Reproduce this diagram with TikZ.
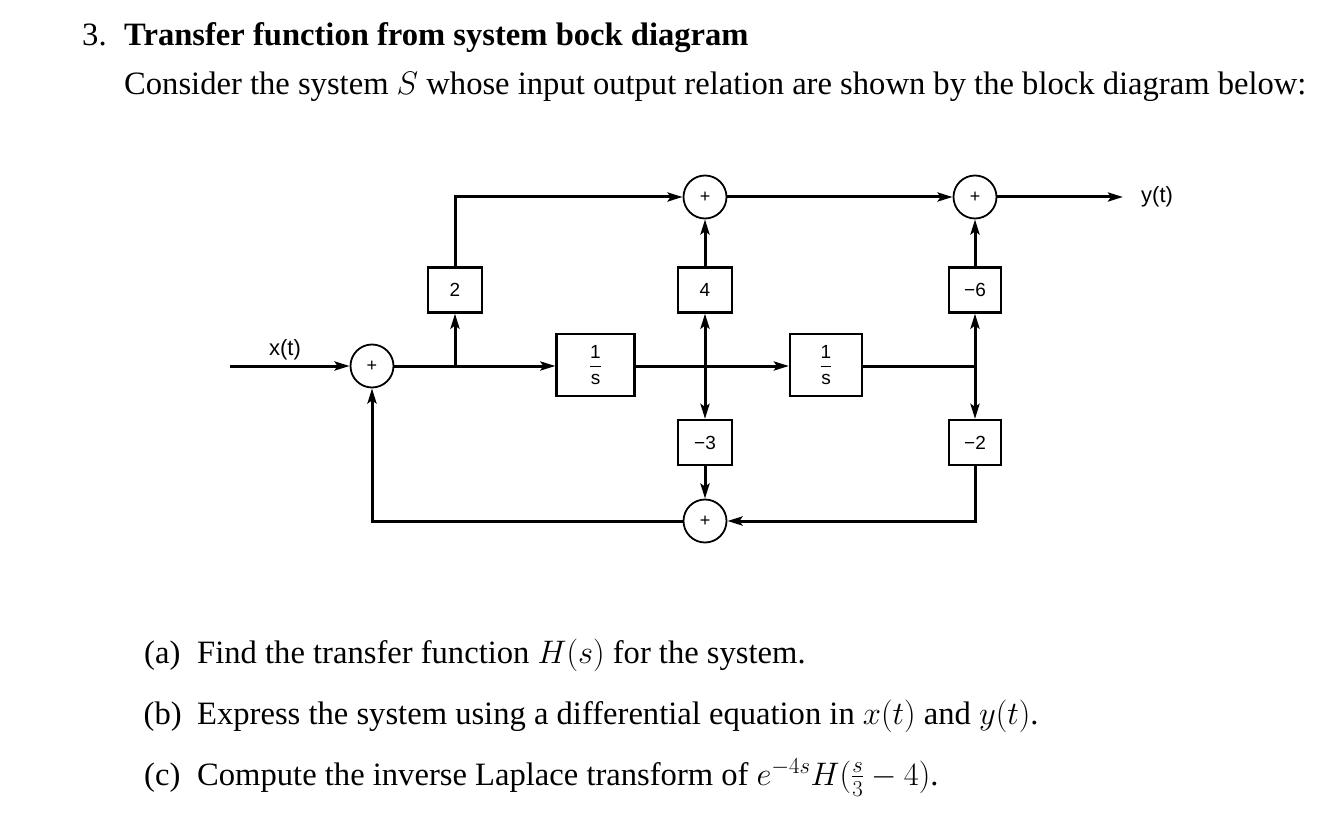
\RequirePackage{fix-cm}
\documentclass[tikz,border=0pt]{standalone}
\usepackage{amsmath}
\usepackage[no-math]{fontspec}
\setmainfont{Liberation Serif}
\setsansfont{Liberation Sans}
\usetikzlibrary{arrows.meta,positioning}

\begin{document}
\begin{tikzpicture}[
    x=1pt, y=-1pt, >={Stealth[length=15pt,width=9pt,inset=3pt]},
    sum_node/.style={circle, draw, line width=1.8pt, minimum size=43pt, inner sep=0pt, font=\fontsize{18}{18}\selectfont\sffamily},
    gain_node/.style={rectangle, draw, line width=2.2pt, minimum width=54pt, minimum height=45pt, inner sep=0pt, font=\fontsize{19}{19}\selectfont\sffamily},
    int_node/.style={gain_node, minimum width=78pt, minimum height=62pt},
    sig_lbl/.style={inner sep=0pt, font=\fontsize{22}{22}\selectfont\sffamily},
    sig_line/.style={line width=3pt},
    txt_lbl/.style={anchor=base west, inner sep=0pt, font=\fontsize{32.6}{38}\selectfont}
]
    \useasboundingbox (0,0) rectangle (1330,834);

    % Question text
    \node[txt_lbl] (num_lbl) at (82,46) {3.};
    \node[txt_lbl] (title_lbl) at (124,46) {\bfseries Transfer function from system bock diagram};
    \node[txt_lbl] (intro_lbl) at (124,95) {Consider the system $S$ whose input output relation are shown by the block diagram below:};

    % Summing junctions
    \node[sum_node] (in_sum) at (372,366) {+};
    \node[sum_node] (top_sum_a) at (705,197) {+};
    \node[sum_node] (top_sum_b) at (975,197) {+};
    \node[sum_node] (bot_sum) at (705,521) {+};

    % Gain and integrator blocks
    \node[gain_node] (gain_two) at (455,290) {2};
    \node[gain_node] (gain_four) at (705,290) {4};
    \node[gain_node] (gain_mthree) at (705,442.5) {−3};
    \node[gain_node, minimum width=52pt] (gain_msix) at (975,290) {−6};
    \node[gain_node, minimum width=52pt] (gain_mtwo) at (975,442.5) {−2};
    \node[int_node] (int_a) at (595.5,365) {$\dfrac{\hbox{1}}{\hbox{s}}$};
    \node[int_node, minimum width=72pt] (int_b) at (826,365) {$\dfrac{\hbox{1}}{\hbox{s}}$};

    % Input, output and branch points
    \coordinate (x_in) at (230,366);
    \coordinate (y_out) at (1123,197);
    \coordinate (br_a) at (gain_two |- in_sum);
    \coordinate (br_b) at (gain_four |- in_sum);
    \coordinate (br_c) at (gain_msix |- in_sum);
    \node[sig_lbl] (x_lbl) at (285,350) {x(t)};
    \node[sig_lbl, anchor=west] (y_lbl) at (1141,197) {y(t)};

    % Signal paths
    \draw[->, sig_line] (x_in) -- (in_sum);
    \draw[->, sig_line] (in_sum) -- (in_sum -| int_a.west);
    \draw[->, sig_line] (br_a) -- (gain_two);
    \draw[->, sig_line] (gain_two) |- (top_sum_a);
    \draw[->, sig_line] (int_a.east |- br_b) -- (br_b -| int_b.west);
    \draw[->, sig_line] (br_b) -- (gain_four);
    \draw[->, sig_line] (br_b) -- (gain_mthree);
    \draw[->, sig_line] (gain_four) -- (top_sum_a);
    \draw[->, sig_line] (gain_mthree) -- (bot_sum);
    \draw[->, sig_line] (top_sum_a) -- (top_sum_b);
    \draw[->, sig_line] (top_sum_b) -- (y_out);
    \draw[sig_line] (int_b.east |- br_c) -- (br_c);
    \draw[->, sig_line] (br_c) -- (gain_msix);
    \draw[->, sig_line] (br_c) -- (gain_mtwo);
    \draw[->, sig_line] (gain_msix) -- (top_sum_b);
    \draw[->, sig_line] (gain_mtwo) |- (bot_sum);
    \draw[->, sig_line] (bot_sum) -| (in_sum);

    % Sub-questions
    \node[txt_lbl] (item_a_tag) at (144,663) {(a)};
    \node[txt_lbl] (item_a) at (197,663) {Find the transfer function $H(s)$ for the system.};
    \node[txt_lbl] (item_b_tag) at (143.5,724) {(b)};
    \node[txt_lbl] (item_b) at (197,724) {Express the system using a differential equation in $x(t)$ and $y(t)$.};
    \node[txt_lbl] (item_c_tag) at (144,785) {(c)};
    \node[txt_lbl] (item_c) at (197,785) {Compute the inverse Laplace transform of $e^{-4s}H(\frac{s}{3}-4)$.};
\end{tikzpicture}
\end{document}
